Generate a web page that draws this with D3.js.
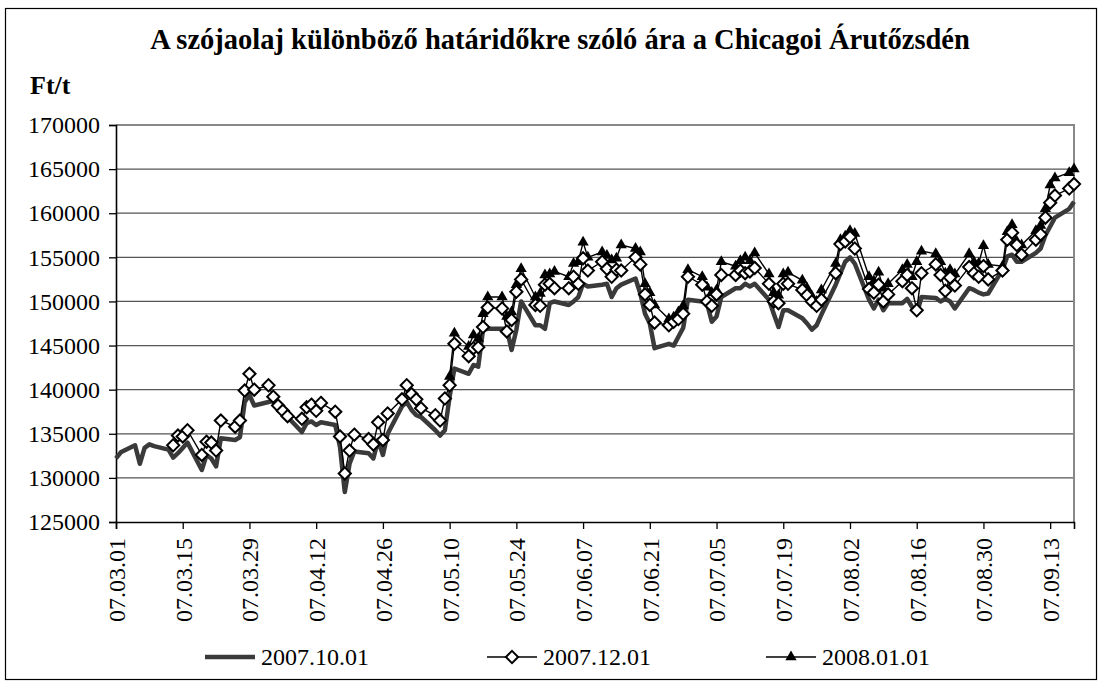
<!DOCTYPE html>
<html>
<head>
<meta charset="utf-8">
<script src="https://cdn.jsdelivr.net/npm/d3@7"></script>
<style>
body { margin: 0; background: #fff; }
svg text { font-family: "Liberation Serif", "Times New Roman", serif; fill: #000; }
</style>
</head>
<body>
<svg id="chart"></svg>
<script>
var width = 1102;
var height = 681;
var serif = "'Liberation Serif', 'Times New Roman', serif";

// x axis: one label every 14 days
var tickLabels = ["07.03.01", "07.03.15", "07.03.29", "07.04.12", "07.04.26", "07.05.10", "07.05.24",
  "07.06.07", "07.06.21", "07.07.05", "07.07.19", "07.08.02", "07.08.16", "07.08.30", "07.09.13"];
var firstDay = "2007-03-01";
var lastDay = "2007-09-18";

var seriesNames = ["2007.10.01", "2007.12.01", "2008.01.01"];
var seriesStart = ["2007-03-01", "2007-03-13", "2007-05-10"];

// prices in Ft/t, one value per trading day (Mon-Fri) from the series start
var oct07 = [
  132200, 132900,
  133700, 131600, 133400, 133800, 133600,
  133200, 132300, 132800, 133400, 134000,
  130900, 132600, 132200, 131300, 134500,
  134300, 134600, 138600, 139400, 138200,
  138600, 138700, 137700, 137300, 136900,
  135200, 136200, 136400, 136000, 136300,
  136000, 133500, 128400, 131600, 133000,
  132800, 132200, 134300, 132600, 135000,
  138100, 138600, 137700, 137100, 136900,
  135400, 134800, 135400, 139200, 142400,
  141800, 142800, 142600, 146800, 146900,
  146900, 146900, 144500, 146800, 150000,
  147300, 147300, 146900, 149800, 150000,
  149600, 150000, 150500, 152000, 151700,
  151900, 152000, 150500, 151500, 151900,
  152600, 150900, 148600, 147500, 144700,
  145200, 145000, 146000, 147000, 150200,
  150000, 149800, 147700, 148300, 150500,
  151500, 151500, 152000, 151700, 152000,
  150200, 148600, 147100, 149000, 149000,
  148100, 147500, 146800, 147300, 148500,
  151900, 153200, 154500, 155000, 154300,
  150200, 149200, 150200, 149000, 149800,
  149800, 150300, 149400, 148600, 150500,
  150400, 150000, 150300, 150000, 149200,
  151500, 151300, 151000, 150800, 150900,
  153600, 155100, 155300, 154500, 154500,
  155500, 156000, 157500, 158500, 159500,
  160500, 161300
];
var dec07 = [
  133700, 134800, 134700, 135400,
  132600, 134100, 134000, 133100, 136500,
  135800, 136500, 139900, 141800, 140000,
  140500, 139200, 138200, 137600, 137000,
  136700, 138000, 138300, 137600, 138500,
  137500, 134700, 130500, 133100, 134900,
  134400, 133800, 136300, 134300, 137300,
  138900, 140500, 139500, 138900, 137900,
  137100, 136500, 139000, 140500, 145200,
  143800, 144700, 144800, 147100, 149300,
  149200, 146600, 147900, 151100, 152500,
  149600, 149500, 151900, 152000, 151500,
  151500, 152800, 152000, 154900, 153500,
  154500, 153700, 152800, 153600, 153500,
  155000, 154200, 150800, 149600, 147600,
  147300, 147700, 148000, 148600, 152800,
  151900, 150000, 149500, 150800, 153000,
  153000, 153500, 153200, 153400, 153800,
  152000, 150000, 149800, 152000, 152000,
  151300, 150700, 150000, 149500, 150200,
  153200, 156500, 156800, 157300, 156000,
  151400, 151000, 151900, 150000, 150800,
  152300, 153000, 151500, 149000, 153200,
  154200, 153000, 151200, 152700, 151800,
  153900, 153200, 152800, 154000, 152500,
  153500, 157000, 157800, 156400, 155300,
  157000, 157600, 159500, 161200, 162000,
  162800, 163300
];
var jan08 = [
  141500, 146400,
  144900, 146200, 145800, 148600, 150500,
  150500, 148300, 148800, 151900, 153700,
  150500, 150900, 153000, 153100, 153400,
  152800, 154300, 154500, 156700, 155000,
  155600, 155200, 154700, 154900, 156400,
  156000, 155600, 152000, 151000, 149600,
  148000, 148200, 148800, 149500, 153600,
  152800, 151600, 151000, 151300, 154500,
  154000, 154600, 155000, 154600, 155500,
  153100, 151000, 150700, 153100, 153300,
  152400, 151500, 150600, 150000, 151300,
  154300, 157000, 157400, 158000, 157700,
  152800, 152300, 153300, 151500, 152000,
  153600, 154200, 152800, 154500, 155700,
  155400, 154500, 153200, 153600, 153100,
  155400, 154500, 154300, 156300, 154200,
  154000, 157900, 158700, 156800, 156400,
  158000, 158600, 160500, 163200, 164000,
  164600, 165000
];
var seriesValues = [oct07, dec07, jan08];

var parse = d3.utcParse("%Y-%m-%d");
var parseTick = d3.utcParse("%y.%m.%d");

// trading days of each series
function tradingDays(from, n) {
  var days = d3.utcDay.range(parse(from), d3.utcDay.offset(parse(lastDay), 1))
    .filter(function(d) { return d.getUTCDay() % 6 !== 0; });
  return days.slice(0, n);
}

var series = seriesNames.map(function(name, i) {
  var days = tradingDays(seriesStart[i], seriesValues[i].length);
  return {
    name: name,
    points: seriesValues[i].map(function(v, j) { return {date: days[j], value: v}; })
  };
});

var margin = {left: 116, right: 28, top: 125, bottom: 159};

var x = d3.scaleUtc()
  .domain([parse(firstDay), parse(lastDay)])
  .range([margin.left, width - margin.right]);

var y = d3.scaleLinear()
  .domain([125000, 170000])
  .range([height - margin.bottom, margin.top]);

var svg = d3.select("#chart").attr("width", width).attr("height", height)
  .style("font-family", serif);

// outer frame
svg.append("rect")
  .attr("x", 5.5).attr("y", 8.5)
  .attr("width", width - 11).attr("height", height - 10)
  .attr("fill", "#fff").attr("stroke", "#000").attr("stroke-width", 1.2);

svg.append("text")
  .attr("x", 560).attr("y", 49)
  .attr("text-anchor", "middle")
  .style("font-family", serif)
  .style("font-size", "28.5px").style("font-weight", "bold")
  .text("A szójaolaj különböző határidőkre szóló ára a Chicagoi Árutőzsdén");

svg.append("text")
  .attr("x", 30).attr("y", 94)
  .style("font-family", serif)
  .style("font-size", "26px").style("font-weight", "bold")
  .text("Ft/t");

// gridlines
var yTicks = d3.range(125000, 170001, 5000);
svg.append("g")
  .selectAll("line")
  .data(yTicks.slice(1, -1))
  .enter().append("line")
  .attr("x1", x.range()[0]).attr("x2", x.range()[1])
  .attr("y1", function(d) { return y(d); }).attr("y2", function(d) { return y(d); })
  .attr("stroke", "#555").attr("stroke-width", 1.3);

// plot frame (top and right)
svg.append("path")
  .attr("d", "M" + x.range()[0] + "," + y(170000) + "H" + x.range()[1] + "V" + y(125000))
  .attr("fill", "none").attr("stroke", "#888").attr("stroke-width", 2);

// axes
var yAxis = d3.axisLeft(y).tickValues(yTicks).tickSize(7).tickFormat(d3.format("d"));
var gy = svg.append("g").attr("transform", "translate(" + margin.left + ",0)").call(yAxis);
gy.selectAll("text").style("font-size", "24px").attr("x", -16);

var tickDates = tickLabels.map(function(t) { return parseTick(t); });
var xAxis = d3.axisBottom(x).tickValues(tickDates).tickSize(7)
  .tickFormat(function(d, i) { return tickLabels[i]; });
var gx = svg.append("g").attr("transform", "translate(0," + y(125000) + ")").call(xAxis);
gx.selectAll("text")
  .style("font-size", "24px")
  .attr("text-anchor", "end")
  .attr("transform", "rotate(-90)")
  .attr("x", -16).attr("y", 0).attr("dy", "0.35em");

svg.selectAll(".tick text").style("font-family", serif);
svg.selectAll(".domain").attr("stroke", "#000").attr("stroke-width", 1.6);
svg.selectAll(".tick line").attr("stroke", "#000").attr("stroke-width", 1.3);

var line = d3.line()
  .x(function(d) { return x(d.date); })
  .y(function(d) { return y(d.value); });

var diamond = d3.symbol().type(d3.symbolDiamond2).size(95);
var triangle = d3.symbol().type(d3.symbolTriangle).size(55);

// series 1: thick grey line
svg.append("path")
  .datum(series[0].points)
  .attr("d", line)
  .attr("fill", "none").attr("stroke", "#3a3a3a").attr("stroke-width", 4.5)
  .attr("stroke-linejoin", "round");

// series 3: thin black line, black triangles
svg.append("path")
  .datum(series[2].points)
  .attr("d", line)
  .attr("fill", "none").attr("stroke", "#000").attr("stroke-width", 1.4);
svg.append("g").selectAll("path")
  .data(series[2].points)
  .enter().append("path")
  .attr("d", triangle)
  .attr("transform", function(d) { return "translate(" + x(d.date) + "," + y(d.value) + ")"; })
  .attr("fill", "#000");

// series 2: thin black line, white diamonds
svg.append("path")
  .datum(series[1].points)
  .attr("d", line)
  .attr("fill", "none").attr("stroke", "#000").attr("stroke-width", 1.4);
svg.append("g").selectAll("path")
  .data(series[1].points)
  .enter().append("path")
  .attr("d", diamond)
  .attr("transform", function(d) { return "translate(" + x(d.date) + "," + y(d.value) + ")"; })
  .attr("fill", "#fff").attr("stroke", "#000").attr("stroke-width", 2);

// legend
var legendX = [205, 487, 766];
var legend = svg.append("g");
series.forEach(function(s, i) {
  var g = legend.append("g").attr("transform", "translate(" + legendX[i] + ",657)");
  g.append("line").attr("x1", 0).attr("x2", 50)
    .attr("stroke", i === 0 ? "#3a3a3a" : "#000")
    .attr("stroke-width", i === 0 ? 4.5 : 1.4);
  if (i === 1) {
    g.append("path").attr("d", diamond).attr("transform", "translate(25,0)")
      .attr("fill", "#fff").attr("stroke", "#000").attr("stroke-width", 2);
  }
  if (i === 2) {
    g.append("path").attr("d", triangle).attr("transform", "translate(25,0)").attr("fill", "#000");
  }
  g.append("text").attr("x", 56).attr("dy", "0.35em")
    .style("font-family", serif)
    .style("font-size", "24px").text(s.name);
});
</script>
</body>
</html>
